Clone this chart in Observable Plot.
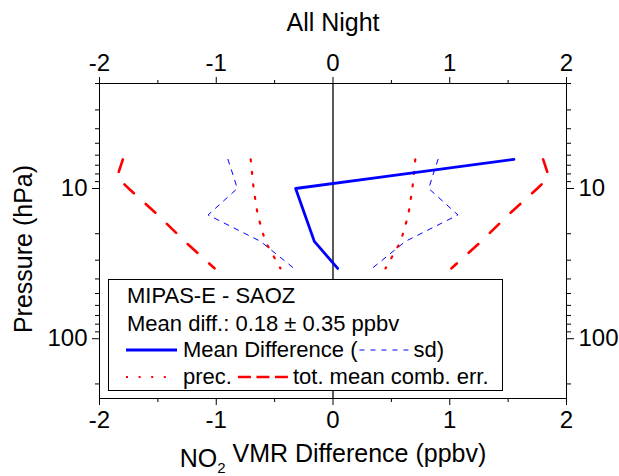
<!DOCTYPE html>
<html>
<head>
<meta charset="utf-8">
<script src="https://cdn.jsdelivr.net/npm/d3@7"></script>
<script src="https://cdn.jsdelivr.net/npm/@observablehq/plot@0.6"></script>
<style>
  html, body { margin: 0; padding: 0; background: white; }
  body { width: 619px; height: 476px; overflow: hidden; }
</style>
</head>
<body>
<script>
// Pressure levels (hPa)
const pressure = [6.4, 8.4, 10, 15, 22.5, 34];
// Series (ppbv)
const meanDiff = [1.55, 0.41, -0.32, -0.24, -0.16, 0.04];
const sd       = [0.90, 0.85, 0.82, 1.07, 0.62, 0.335];
const prec     = [0.705, 0.69, 0.68, 0.645, 0.58, 0.45];
const totErr   = [1.80, 1.85, 1.75, 1.50, 1.27, 1.015];

// Ticks
const xTicks = [-2, -1, 0, 1, 2];
const xMinor = [-1.5, -0.5, 0.5, 1.5];
const yTicks = [10, 100];
const yMinor = [2, 3, 4, 5, 6, 7, 8, 9, 20, 30, 40, 50, 60, 70, 80, 90, 200];

const title = "All Night";
const xLabel = ["NO", "2", " VMR Difference (ppbv)"];
const yLabel = "Pressure (hPa)";
const legendLines = ["MIPAS-E - SAOZ", "Mean diff.: 0.18 \u00b1 0.35 ppbv"];

const table = pressure.map((p, i) => ({p, mean: meanDiff[i], sd: sd[i], prec: prec[i], tot: totErr[i]}));

const FONT = "'Liberation Sans', Arial, Helvetica, sans-serif";
const FS = 24;     // tick labels
const TFS = 25;    // titles
const LFS = 22;    // legend
const blue = "#0000ff", red = "#ff0000";
const noText = () => "";
const fmt = d => String(d);

const chart = Plot.plot({
  width: 619, height: 476,
  marginTop: 83, marginLeft: 99, marginRight: 53, marginBottom: 78,
  style: {fontFamily: FONT, fontSize: FS + "px", background: "white", color: "black"},
  x: {domain: [-2, 2]},
  y: {type: "log", domain: [2, 250], reverse: true},
  marks: [
    Plot.ruleX([0], {stroke: "black", strokeWidth: 1.3}),
    Plot.line(table, {x: "tot", y: "p", stroke: red, strokeWidth: 2.6, strokeDasharray: "13,16"}),
    Plot.line(table, {x: d => -d.tot, y: "p", stroke: red, strokeWidth: 2.6, strokeDasharray: "13,16"}),
    Plot.line(table, {x: "prec", y: "p", stroke: red, strokeWidth: 2.2, strokeDasharray: "2,10.6"}),
    Plot.line(table, {x: d => -d.prec, y: "p", stroke: red, strokeWidth: 2.2, strokeDasharray: "2,10.6"}),
    Plot.line(table, {x: "sd", y: "p", stroke: blue, strokeWidth: 1, strokeDasharray: "5,6"}),
    Plot.line(table, {x: d => -d.sd, y: "p", stroke: blue, strokeWidth: 1, strokeDasharray: "5,6"}),
    Plot.line(table, {x: "mean", y: "p", stroke: blue, strokeWidth: 2.8}),
    Plot.frame({stroke: "black", strokeWidth: 1}),
    Plot.axisX(xTicks, {anchor: "bottom", tickSize: 7, tickPadding: 5, label: null, fontSize: FS, tickFormat: fmt}),
    Plot.axisX(xMinor, {anchor: "bottom", tickSize: 4, tickFormat: noText, label: null}),
    Plot.axisX(xTicks, {anchor: "top", tickSize: 7, tickPadding: 6, label: null, fontSize: FS, tickFormat: fmt}),
    Plot.axisX(xMinor, {anchor: "top", tickSize: 4, tickFormat: noText, label: null}),
    Plot.axisY(yTicks, {anchor: "left", tickSize: 7, tickPadding: 5, label: null, fontSize: FS, tickFormat: fmt}),
    Plot.axisY(yMinor, {anchor: "left", tickSize: 4, tickFormat: noText, label: null}),
    Plot.axisY(yTicks, {anchor: "right", tickSize: 7, tickPadding: 5, label: null, fontSize: FS, tickFormat: fmt}),
    Plot.axisY(yMinor, {anchor: "right", tickSize: 4, tickFormat: noText, label: null}),
    Plot.text([title], {frameAnchor: "top", lineAnchor: "middle", dy: -61, fontSize: TFS, fill: "black"}),
    Plot.text([yLabel], {frameAnchor: "left", textAnchor: "middle", lineAnchor: "middle", dx: -76, dy: 8, rotate: -90, fontSize: TFS, fill: "black"}),
    Plot.text([xLabel.join("")], {frameAnchor: "bottom", textAnchor: "middle", lineAnchor: "middle", dy: 60, fontSize: TFS, fill: "black"})
  ]
});
document.body.append(chart);

// subscript for NO2
d3.select(chart).selectAll("text").each(function() {
  if (this.textContent === xLabel.join("")) {
    const t = d3.select(this);
    t.text(null);
    t.append("tspan").text(xLabel[0]);
    t.append("tspan").attr("font-size", 15).attr("dy", "0.45em").text(xLabel[1]);
    t.append("tspan").attr("dy", "-0.45em").text(xLabel[2]);
  }
});

// Legend
const svg = d3.select(chart);
const lg = svg.append("g").attr("font-family", FONT).attr("font-size", LFS)
  .attr("fill", "black").attr("text-anchor", "start");
lg.append("rect").attr("x", 108.5).attr("y", 279.5).attr("width", 394).attr("height", 111)
  .attr("fill", "white").attr("stroke", "black").attr("stroke-width", 1);
lg.append("text").attr("x", 127).attr("y", 303).text(legendLines[0]);
lg.append("text").attr("x", 127).attr("y", 330.5).text(legendLines[1]);
// row 3
lg.append("line").attr("x1", 126).attr("x2", 177).attr("y1", 350).attr("y2", 350)
  .attr("stroke", blue).attr("stroke-width", 2.8);
const t3 = lg.append("text").attr("x", 183).attr("y", 357).text("Mean Difference (");
const w3 = t3.node().getComputedTextLength();
lg.append("line").attr("x1", 183 + w3 + 2).attr("x2", 183 + w3 + 52).attr("y1", 350).attr("y2", 350)
  .attr("stroke", blue).attr("stroke-width", 1).attr("stroke-dasharray", "5,6");
lg.append("text").attr("x", 183 + w3 + 56).attr("y", 357).text("sd)");
// row 4
lg.append("line").attr("x1", 126).attr("x2", 168).attr("y1", 377).attr("y2", 377)
  .attr("stroke", red).attr("stroke-width", 2.2).attr("stroke-dasharray", "2,10.6");
const t4 = lg.append("text").attr("x", 183).attr("y", 384).text("prec.");
const w4 = t4.node().getComputedTextLength();
lg.append("line").attr("x1", 183 + w4 + 6).attr("x2", 183 + w4 + 56).attr("y1", 377).attr("y2", 377)
  .attr("stroke", red).attr("stroke-width", 2.6).attr("stroke-dasharray", "13,5.5");
lg.append("text").attr("x", 183 + w4 + 61).attr("y", 384).text("tot. mean comb. err.");
</script>
</body>
</html>
